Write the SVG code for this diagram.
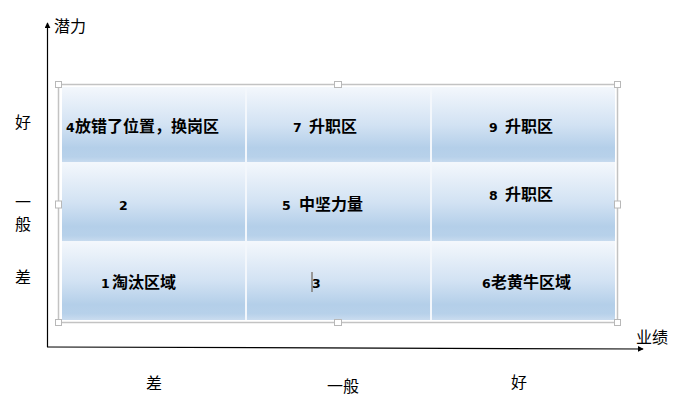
<svg xmlns="http://www.w3.org/2000/svg" width="682" height="403" viewBox="0 0 682 403">
<style>
.ax{font-family:"Noto Sans CJK SC","Noto Sans CJK JP",sans-serif;font-size:16px;fill:#000;}
.t{font-family:"DejaVu Sans","Noto Sans CJK SC",sans-serif;font-weight:bold;fill:#000;}
.d{font-size:12.5px;}
.c{font-size:16px;font-family:"Noto Sans CJK SC",sans-serif;}
.cell{fill:url(#g);}
.sep{stroke:#f3f7fc;stroke-width:2;}
.frame{fill:none;stroke:#c3c3c3;stroke-width:1.5;}
.h{fill:#fff;stroke:#b8b8b8;stroke-width:1;}
.axis{stroke:#000;stroke-width:1.2;fill:none;}
</style>
<defs>
<linearGradient id="g" x1="0" y1="0" x2="0" y2="1">
<stop offset="0" stop-color="#f3f7fc"/>
<stop offset="0.5" stop-color="#d2e2f3"/>
<stop offset="0.8" stop-color="#b4cfe9"/>
<stop offset="0.92" stop-color="#b7d1ea"/>
<stop offset="1" stop-color="#cadcef"/>
</linearGradient>
<marker id="ar" viewBox="0 0 8 8" refX="7" refY="4" markerWidth="6" markerHeight="6" orient="auto" markerUnits="userSpaceOnUse">
<path d="M0,0 L8,4 L0,8 z" fill="#000"/>
</marker>
</defs>

<g id="connectors">
<line class="axis" x1="47.5" y1="347" x2="47.5" y2="23" marker-end="url(#ar)"/>
<line class="axis" x1="47" y1="347" x2="643" y2="349" marker-end="url(#ar)"/>
</g>

<g id="axis-labels">
<text class="ax" x="54" y="32">潜力</text>
<text class="ax" x="636" y="343">业绩</text>
<text class="ax" x="23" y="128" text-anchor="middle">好</text>
<text class="ax" x="23" y="208" text-anchor="middle">一</text>
<text class="ax" x="23" y="230" text-anchor="middle">般</text>
<text class="ax" x="23" y="283" text-anchor="middle">差</text>
<text class="ax" x="154" y="389" text-anchor="middle">差</text>
<text class="ax" x="343" y="392" text-anchor="middle">一般</text>
<text class="ax" x="519" y="388" text-anchor="middle">好</text>
</g>

<g id="table">
<rect class="frame" x="58.5" y="84.5" width="559" height="238"/>
<rect class="cell" x="62" y="87" width="553" height="76"/>
<rect class="cell" x="62" y="163" width="553" height="79"/>
<rect class="cell" x="62" y="242" width="553" height="78"/>
<line class="sep" x1="62" y1="163" x2="615" y2="163"/>
<line class="sep" x1="62" y1="242" x2="615" y2="242"/>
<line class="sep" x1="246" y1="87" x2="246" y2="320"/>
<line class="sep" x1="431" y1="87" x2="431" y2="320"/>
</g>

<g id="cell-4"><text class="t" y="132"><tspan class="d" x="66">4</tspan><tspan class="c" x="75">放错了位置，换岗区</tspan></text></g>
<g id="cell-7"><text class="t" y="132"><tspan class="d" x="293">7</tspan><tspan class="c" x="309">升职区</tspan></text></g>
<g id="cell-9"><text class="t" y="132"><tspan class="d" x="489">9</tspan><tspan class="c" x="505">升职区</tspan></text></g>
<g id="cell-2"><text class="t" y="210"><tspan class="d" x="119">2</tspan></text></g>
<g id="cell-5"><text class="t" y="210"><tspan class="d" x="282">5</tspan><tspan class="c" x="299">中坚力量</tspan></text></g>
<g id="cell-8"><text class="t" y="200"><tspan class="d" x="489">8</tspan><tspan class="c" x="505">升职区</tspan></text></g>
<g id="cell-1"><text class="t" y="288"><tspan class="d" x="101">1</tspan><tspan class="c" x="112">淘汰区域</tspan></text></g>
<g id="cell-3"><text class="t" y="288"><tspan class="d" x="312">3</tspan></text>
<line x1="312" y1="272" x2="312" y2="292" stroke="#5b4b3b" stroke-width="1"/></g>
<g id="cell-6"><text class="t" y="288"><tspan class="d" x="482">6</tspan><tspan class="c" x="491">老黄牛区域</tspan></text></g>

<g id="handles">
<rect class="h" x="55.5" y="81.5" width="6" height="6"/>
<rect class="h" x="334.5" y="81.5" width="7" height="6"/>
<rect class="h" x="614.5" y="81.5" width="6" height="6"/>
<rect class="h" x="55.5" y="201" width="6" height="7"/>
<rect class="h" x="614.5" y="201" width="6" height="7"/>
<rect class="h" x="55.5" y="319.5" width="6" height="6"/>
<rect class="h" x="334.5" y="319.5" width="7" height="6"/>
<rect class="h" x="614.5" y="319.5" width="6" height="6"/>
</g>
</svg>
